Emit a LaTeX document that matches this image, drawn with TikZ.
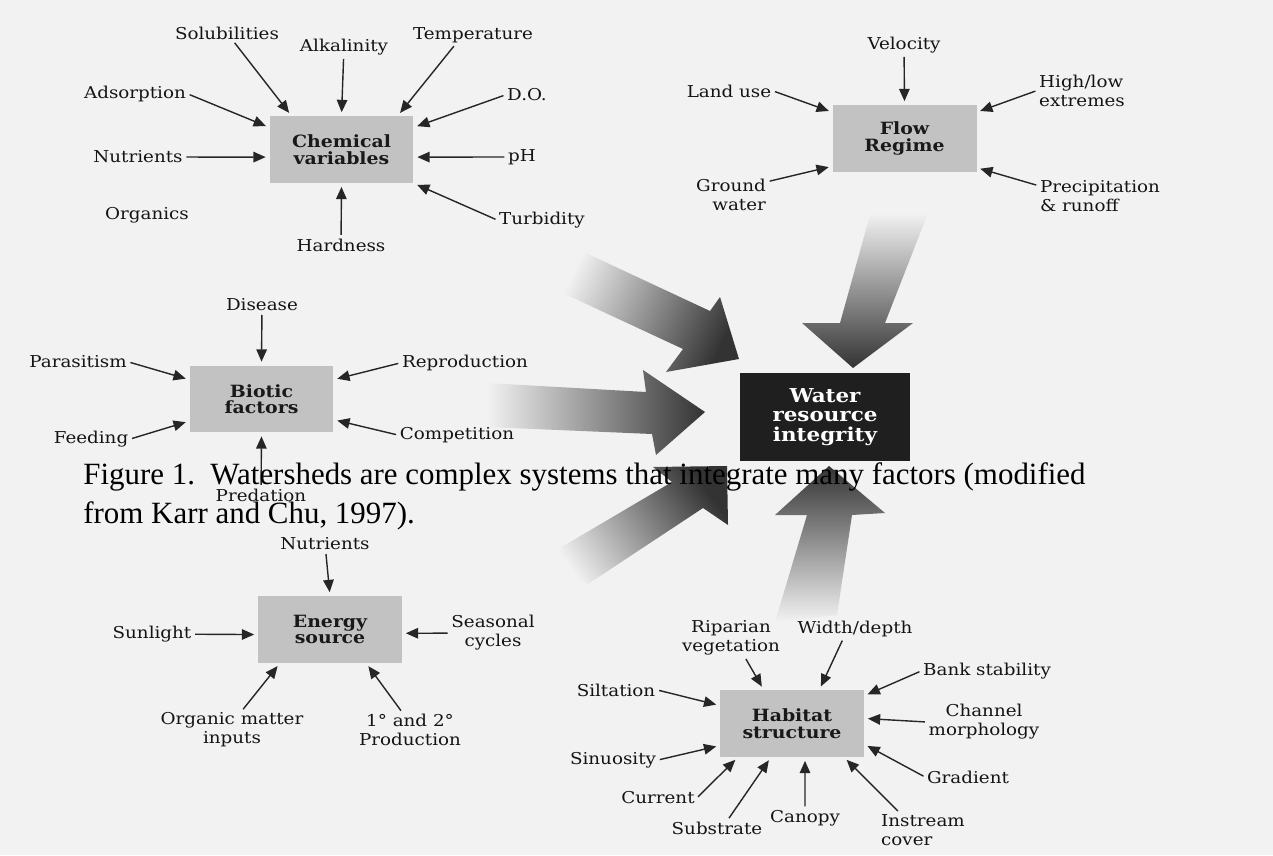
\documentclass[tikz,border=0pt]{standalone}
\usepackage{fontspec}
\setmainfont{Liberation Serif}
\newfontfamily\lblfont[FakeStretch=1.12]{DejaVu Serif}
\usetikzlibrary{arrows.meta,calc,positioning}

\tikzset{
  lbl/.style={font=\lblfont\fontsize{9.3}{10.8}\selectfont, inner sep=1pt, text=black!92},
  factor/.style={fill=black!24, minimum width=2.88cm, minimum height=1.34cm, inner sep=0pt,
    align=center, text=black!90, font=\lblfont\bfseries\fontsize{9.6}{9.4}\selectfont},
  feed/.style={-{Triangle[length=7pt,width=6pt]}, line width=0.8pt, draw=black!85,
    shorten >=2pt, shorten <=1pt},
  caption/.style={anchor=base west, inner sep=0pt, font=\fontsize{17.6}{22}\selectfont},
}

\begin{document}
\begin{tikzpicture}[x=0.02cm, y=-0.02cm]

\useasboundingbox (0,0) rectangle (1273,855);
\fill[black!5] (0,0) rectangle (1273,855);

%the five big shaded arrows into the centre
\shade[top color=black!5, bottom color=black!80, shading angle=65]
  (573,247) -- (710,311) -- (720,297) -- (739,359) -- (666,372) -- (683,349) -- (554,289) -- cycle;
\shade[left color=black!5, right color=black!80]
  (487,383) -- (646,392) -- (643,370) -- (705,412) -- (656,455) -- (652,434) -- (487,427) -- cycle;
\shade[top color=black!5, bottom color=black!80]
  (870,215) -- (928,213) -- (885,323) -- (913,323) -- (853,368) -- (802,323) -- (840,323) -- cycle;
\shade[top color=black!5, bottom color=black!80, shading angle=125]
  (543,558) -- (672,482) -- (653,467) -- (727,466) -- (728,525) -- (703,508) -- (588,584) -- cycle;
\shade[top color=black!80, bottom color=black!5]
  (775,622) -- (807,515) -- (775,515) -- (829,466) -- (885,513) -- (852,515) -- (837,615) -- cycle;

%the boxes
\node[factor] (chem) at (341.5,149.5) {Chemical\\variables};
\node[factor] (flow) at (904.5,138.5) {Flow\\Regime};
\node[factor] (bio) at (261.5,399) {Biotic\\factors};
\node[factor] (energy) at (330,629.5) {Energy\\source};
\node[factor] (habit) at (792,723.5) {Habitat\\structure};
\node[factor, fill=black!88, text=white, minimum width=3.4cm, minimum height=1.76cm,
  font=\lblfont\bfseries\fontsize{10.9}{11.2}\selectfont] (water) at (825,417) {Water\\resource\\integrity};

%chemical variables
\node[lbl] (solub) at (227,33) {Solubilities};
\node[lbl] (alkal) at (344,47) {Alkalinity};
\node[lbl] (temp) at (473,35) {Temperature};
\node[lbl] (adsorp) at (135,94) {Adsorption};
\node[lbl] (dox) at (527,95) {D.O.};
\node[lbl] (nutr) at (138,157) {Nutrients};
\node[lbl] (ph) at (522,157) {pH};
\node[lbl] (organ) at (147,215) {Organics};
\node[lbl] (turb) at (542,220) {Turbidity};
\node[lbl] (hard) at (341,245) {Hardness};

\draw[feed] (solub) -- (chem.146);
\draw[feed] (alkal) -- (chem.north);
\draw[feed] ($(temp.south)+(-18,0)$) -- (chem.31);
\draw[feed] (adsorp.east) -- (chem.163);
\draw[feed] (dox.west) -- (chem.17);
\draw[feed] (nutr) -- (chem.186);
\draw[feed] (ph) -- (chem.354);
\draw[feed] (turb.west) -- (chem.south east);
\draw[feed] (hard) -- (chem.south);

%biotic factors
\node[lbl] (dis) at (262,305) {Disease};
\node[lbl] (para) at (78,362) {Parasitism};
\node[lbl] (repro) at (465,363) {Reproduction};
\node[lbl] (feeding) at (91,439) {Feeding};
\node[lbl] (comp) at (457,435) {Competition};
\node[lbl] (pred) at (261,495) {Predation};

\draw[feed] (dis) -- (bio.north);
\draw[feed] (para.east) -- (bio.165);
\draw[feed] (repro.west) -- (bio.15);
\draw[feed] (feeding.east) -- (bio.197);
\draw[feed] (comp.west) -- (bio.344);
\draw[feed] (pred) -- (bio.south);

%flow regime
\node[lbl] (vel) at (904,45) {Velocity};
\node[lbl] (landuse) at (729,91) {Land use};
\node[lbl, align=left] (hilo) at (1082,90.5) {High/low\\extremes};
\node[lbl, align=right] (ground) at (731,195) {Ground\\water};
\node[lbl, align=left] (precip) at (1100,196.5) {Precipitation\\\& runoff};

\draw[feed] (vel) -- (flow.north);
\draw[feed] (landuse.east) -- (flow.160);
\draw[feed] (hilo.west) -- (flow.20);
\draw[feed] (ground.20) -- (flow.201);
\draw[feed] (precip.170) -- (flow.338);

%energy source
\node[lbl] (nutrE) at (325,544) {Nutrients};
\node[lbl] (sun) at (152,634) {Sunlight};
\node[lbl, align=center] (seas) at (493,633) {Seasonal\\cycles};
\node[lbl, align=center] (orgin) at (232,730) {Organic matter\\inputs};
\node[lbl, align=center] (prod) at (410,730) {1° and 2°\\Production};

\draw[feed] (nutrE) -- (energy.north);
\draw[feed] (sun) -- (energy.184);
\draw[feed] (seas) -- (energy.357);
\draw[feed] ($(orgin.north)+(10,0)$) -- (energy.214);
\draw[feed] ($(prod.north)+(-8,0)$) -- (energy.317);

%habitat structure
\node[lbl, align=center] (ripar) at (731,638) {Riparian\\vegetation};
\node[lbl] (widthd) at (855,629) {Width/depth};
\node[lbl] (bank) at (987,671) {Bank stability};
\node[lbl] (silt) at (616,690) {Siltation};
\node[lbl, align=center] (chan) at (984,722) {Channel\\morphology};
\node[lbl] (sinu) at (613,760) {Sinuosity};
\node[lbl] (grad) at (968,777) {Gradient};
\node[lbl] (curr) at (658,798) {Current};
\node[lbl] (subs) at (717,828) {Substrate};
\node[lbl] (canopy) at (805,818) {Canopy};
\node[lbl, align=left] (instr) at (923,830) {Instream\\cover};

\draw[feed] ($(ripar.south)+(14,0)$) -- (habit.130);
\draw[feed] ($(widthd.south)+(-12,0)$) -- (habit.51);
\draw[feed] (bank.west) -- (habit.21);
\draw[feed] (silt.east) -- (habit.166);
\draw[feed] (chan.west) -- (habit.4);
\draw[feed] (sinu.east) -- (habit.197);
\draw[feed] (grad.west) -- (habit.344);
\draw[feed] (curr.east) -- (habit.212);
\draw[feed] ($(subs.north)+(11,0)$) -- (habit.238);
\draw[feed] (canopy) -- (habit.291);
\draw[feed] ($(instr.north west)+(20,0)$) -- (habit.327);

%caption on top
\node[caption] (capA) at (83,484) {Figure 1.\ \ Watersheds are complex systems that integrate many factors (modified};
\node[caption] (capB) at (83,523) {from Karr and Chu, 1997).};

\end{tikzpicture}
\end{document}
